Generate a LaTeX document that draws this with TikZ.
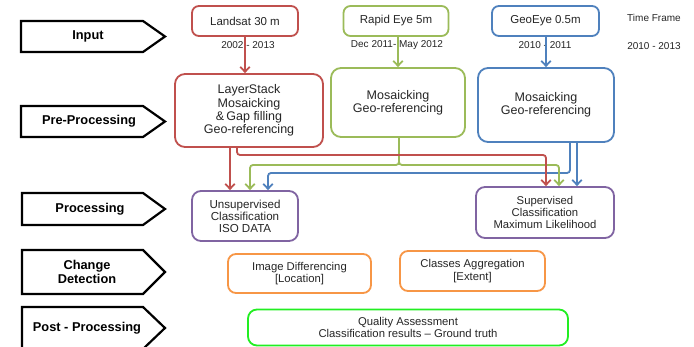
\documentclass[tikz,border=0pt]{standalone}
\usepackage{fontspec}
\setmainfont{Liberation Sans}
\usetikzlibrary{arrows.meta}
\definecolor{cred}{HTML}{C0504D}
\definecolor{cgreen}{HTML}{9BBB59}
\definecolor{cblue}{HTML}{4F81BD}
\definecolor{cpurple}{HTML}{8064A2}
\definecolor{corange}{HTML}{F79646}
\definecolor{clime}{HTML}{22EE22}
\definecolor{ctxt}{HTML}{262626}
\newcommand\fsz[2]{\fontsize{#1}{#2}\selectfont}
\begin{document}
\begin{tikzpicture}[x=1pt,y=-1pt,
  box/.style={draw=#1, line width=1.8pt, rounded corners=7pt, align=center, inner sep=0pt, text=ctxt},
  stage/.style={draw=black, line width=2.2pt, line join=miter},
  stagetext/.style={font=\bfseries\fsz{12.8}{14}, align=center, text=black},
  lbl/.style={font=\fsz{10}{12}, text=ctxt, inner sep=0pt},
  conn/.style={line width=1.8pt, rounded corners=3pt, -{Straight Barb[length=5pt,width=9.5pt]}}]
\clip (0,0) rectangle (694,347);
\fill[white] (0,0) rectangle (694,347);

% stage arrows
\draw[stage] (21,21) -- (143,21) -- (165,36.5) -- (143,52) -- (21,52) -- cycle;
\node[stagetext] (tin) at (88,36.5) {Input};
\draw[stage] (21,106) -- (143,106) -- (165,121.5) -- (143,137) -- (21,137) -- cycle;
\node[stagetext] (tpre) at (89,121.5) {Pre-Processing};
\draw[stage] (22,193) -- (143,193) -- (165,209) -- (143,225) -- (22,225) -- cycle;
\node[stagetext] (tproc) at (90,209) {Processing};
\draw[stage] (22,250) -- (143,250) -- (165,272) -- (143,294) -- (22,294) -- cycle;
\node[stagetext] (tchg) at (87,271.5) {Change\\Detection};
\draw[stage] (22,307) -- (143,307) -- (165,328) -- (143,349) -- (22,349) -- cycle;
\node[stagetext] (tpost) at (87,328) {Post - Processing};

% input boxes
\node[box=cred, minimum width=106, minimum height=30, font=\fsz{11.5}{13}] (ls) at (245,21) {Landsat 30 m};
\node[box=cgreen, minimum width=105, minimum height=30, font=\fsz{11.5}{13}] (re) at (396,21) {Rapid Eye 5m};
\node[box=cblue, minimum width=107, minimum height=30, font=\fsz{11.5}{13}] (ge) at (545.5,21) {GeoEye 0.5m};

\node[lbl] (lls) at (248,45) {2002 - 2013};
\node[lbl] (lre) at (397,45) {Dec 2011- May 2012};
\node[lbl] (lge) at (545,45) {2010 - 2011};

\node[lbl] (tf) at (654,18) {Time Frame};
\node[lbl] (tfy) at (654,46) {2010 - 2013};

% pre-processing boxes
\node[box=cred, rounded corners=10pt, minimum width=148, minimum height=73, font=\fsz{12.5}{13.3}] (pl) at (249,110.5) {LayerStack\\Mosaicking\\\&\,Gap filling\\Geo-referencing};
\node[box=cgreen, rounded corners=10pt, minimum width=134, minimum height=69, font=\fsz{12.5}{13.3}] (pr) at (398,102.5) {Mosaicking\\Geo-referencing};
\node[box=cblue, rounded corners=10pt, minimum width=136, minimum height=74, font=\fsz{12.5}{13.3}] (pg) at (546,105) {Mosaicking\\Geo-referencing};

% processing boxes
\node[box=cpurple, rounded corners=9pt, minimum width=106, minimum height=50, font=\fsz{11.6}{12}] (un) at (245,216) {Unsupervised\\Classification\\ISO DATA};
\node[box=cpurple, rounded corners=9pt, minimum width=138, minimum height=51, font=\fsz{11.3}{11.7}] (su) at (545,212.5) {Supervised\\Classification\\Maximum Likelihood};

% change detection
\node[box=corange, rounded corners=8pt, minimum width=143, minimum height=39, font=\fsz{11.3}{12.5}] (id) at (299.5,273.5) {Image Differencing\\{[}Location{]}};
\node[box=corange, rounded corners=8pt, minimum width=145, minimum height=40, font=\fsz{11.3}{12.5}] (ca) at (472.5,271) {Classes Aggregation\\{[}Extent{]}};

% post processing
\node[box=clime, rounded corners=9pt, minimum width=320, minimum height=36, font=\fsz{11.3}{12.3}] (qa) at (408,327.5) {Quality Assessment\\Classification results -- Ground truth};

% vertical input arrows
\draw[conn, cred] (ls.south) -- (ls.south |- pl.north);
\draw[conn, cgreen] (re.south -| pr.north) -- (pr.north);
\draw[conn, cblue] (ge.south -| pg.north) -- (pg.north);

% routing coordinates
\coordinate (xr1) at (230,0);
\coordinate (xr2) at (237,0);
\coordinate (xr3) at (546,0);
\coordinate (hr) at (0,155);
\coordinate (xg0) at (399,0);
\coordinate (xg1) at (250,0);
\coordinate (xg2) at (559,0);
\coordinate (hg) at (0,165);
\coordinate (xb0) at (570,0);
\coordinate (xb1) at (268,0);
\coordinate (xb2) at (577,0);
\coordinate (hb) at (0,173);

% blue
\draw[conn, cblue] (pg.south -| xb0) |- (hb -| xb1) -- (un.north -| xb1);
\draw[conn, cblue] (pg.south -| xb2) -- (su.north -| xb2);
% green
\draw[conn, cgreen] (pr.south -| xg0) |- (hg -| xg1) -- (un.north -| xg1);
\draw[conn, cgreen] (pr.south -| xg0) |- (hg -| xg2) -- (su.north -| xg2);
% red
\draw[conn, cred] (pl.south -| xr1) -- (un.north -| xr1);
\draw[conn, cred] (pl.south -| xr2) |- (hr -| xr3) -- (su.north -| xr3);
\end{tikzpicture}
\end{document}
